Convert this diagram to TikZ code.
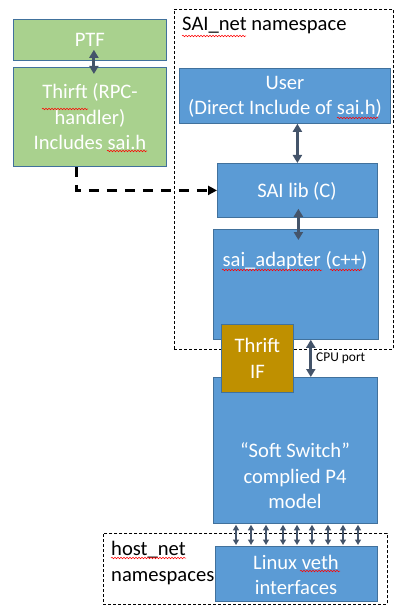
\documentclass[tikz,border=0pt]{standalone}
\usepackage{fontspec}
\setmainfont{Carlito}
\usetikzlibrary{arrows.meta,calc,decorations.pathmorphing}
\definecolor{bfill}{HTML}{5B9BD5}
\definecolor{bdraw}{HTML}{41719C}
\definecolor{gfill}{HTML}{A9D18E}
\definecolor{ofill}{HTML}{BF9000}
\definecolor{arr}{HTML}{44546A}
\begin{document}
\begin{tikzpicture}[x=1pt,y=-1pt,
  box/.style={draw=bdraw,line width=0.8pt,inner sep=0pt,anchor=north west},
  bluebox/.style={box,fill=bfill},
  greenbox/.style={box,fill=gfill},
  goldbox/.style={box,fill=ofill},
  nsbox/.style={draw=black,line width=0.8pt,dash pattern=on 3pt off 2pt,inner sep=0pt,anchor=north west},
  wtext/.style={text=white,font=\fontsize{20.6}{25.5}\selectfont,align=center,inner sep=0pt},
  btext/.style={text=black,font=\fontsize{20.6}{25.5}\selectfont,align=left,inner sep=0pt},
  dbl/.style={draw=arr,line width=3pt,{Triangle[length=8pt,width=9pt]}-{Triangle[length=8pt,width=9pt]}},
  small/.style={draw=arr,line width=1.5pt,{Triangle[length=5.5pt,width=6pt]}-{Triangle[length=5.5pt,width=6pt]}},
  dasharrow/.style={draw=black,line width=3pt,dash pattern=on 10pt off 8pt,-{Triangle[length=9pt,width=9pt]}},
  squig/.style={draw=red,line width=0.5pt,decorate,decoration={snake,amplitude=0.8pt,segment length=3pt}}
]
\useasboundingbox (0,0) rectangle (409,612);
\fill[white] (0,0) rectangle (409,612);

% namespaces
\node[nsbox,minimum width=219pt,minimum height=340pt] (sainet) at (174,9) {};
\node[nsbox,minimum width=284pt,minimum height=71pt] (hostnet) at (103,533) {};
\node[btext,anchor=west] (sainetlbl) at (182,25) {SAI\_net namespace};
\node[btext,anchor=west] (hostnetlbl) at (111,563) {host\_net\\namespaces};

% left side
\node[greenbox,minimum width=153pt,minimum height=41pt] (ptf) at (13,19) {};
\node[wtext] (ptftxt) at (ptf.center) {PTF};
\node[greenbox,minimum width=153pt,minimum height=99pt] (thrift) at (13,67) {};
\node[wtext] (thrifttxt) at (90,117) {Thirft (RPC-\\handler)\\Includes sai.h};

% right stack
\node[bluebox,minimum width=211pt,minimum height=55pt] (user) at (179,68) {};
\node[wtext] (usertxt) at (285,97) {User\\(Direct Include of sai.h)};
\node[bluebox,minimum width=160pt,minimum height=54pt] (sailib) at (217,163) {};
\node[wtext] (sailibtxt) at (297,191) {SAI lib (C)};
\node[bluebox,minimum width=165pt,minimum height=110pt] (adapter) at (213,229) {};
\node[wtext] (adaptertxt) at (295,261) {sai\_adapter (c++)};
\node[bluebox,minimum width=164pt,minimum height=146pt] (ss) at (213,377) {};
\node[wtext] (sstxt) at (295,476) {“Soft Switch”\\complied P4\\model};
\node[goldbox,minimum width=72pt,minimum height=68pt] (tif) at (221,324) {};
\node[wtext] (tiftxt) at (tif.center) {Thrift\\IF};
\node[bluebox,minimum width=162pt,minimum height=55pt] (linux) at (215,546) {};
\node[wtext] (linuxtxt) at (296,575) {Linux veth\\interfaces};

% connectors
\draw[dbl] ([xshift=4pt,yshift=11pt]ptf.south) -- ([xshift=4pt,yshift=-7pt]thrift.north);
\draw[dbl] ([xshift=12.5pt]user.south) -- ([xshift=0pt]sailib.north);
\draw[dbl] ([xshift=1pt,yshift=9pt]sailib.south) -- ([xshift=2.5pt,yshift=-11pt]adapter.north);
\draw[dbl] ([xshift=17pt]tif.east |- adapter.south) -- ([xshift=17pt]tif.east |- ss.north);
\node[text=black,font=\fontsize{13.4}{16}\selectfont,anchor=west,inner sep=0pt] (cpu) at (316,358) {CPU port};
\draw[dasharrow] ([xshift=-13.5pt]thrift.south) |- (sailib.west);
\foreach \x in {23,38,53,70,84,99,115,130,145}{
  \draw[small] ([xshift=\x pt,yshift=-1pt]ss.south west) -- ([xshift={(\x-2)*1pt},yshift=1pt]linux.north west);
}

% spell-check squiggles
\draw[squig] (42,109) -- (88,109);
\draw[squig] (107,151) -- (147,151);
\draw[squig] (182,36) -- (246,36);
\draw[squig] (337,118) -- (378,118);
\draw[squig] (222,270) -- (322,270);
\draw[squig] (330,270) -- (362,270);
\draw[squig] (300,571) -- (340,571);
\draw[squig] (111,558) -- (186,558);
\end{tikzpicture}
\end{document}
